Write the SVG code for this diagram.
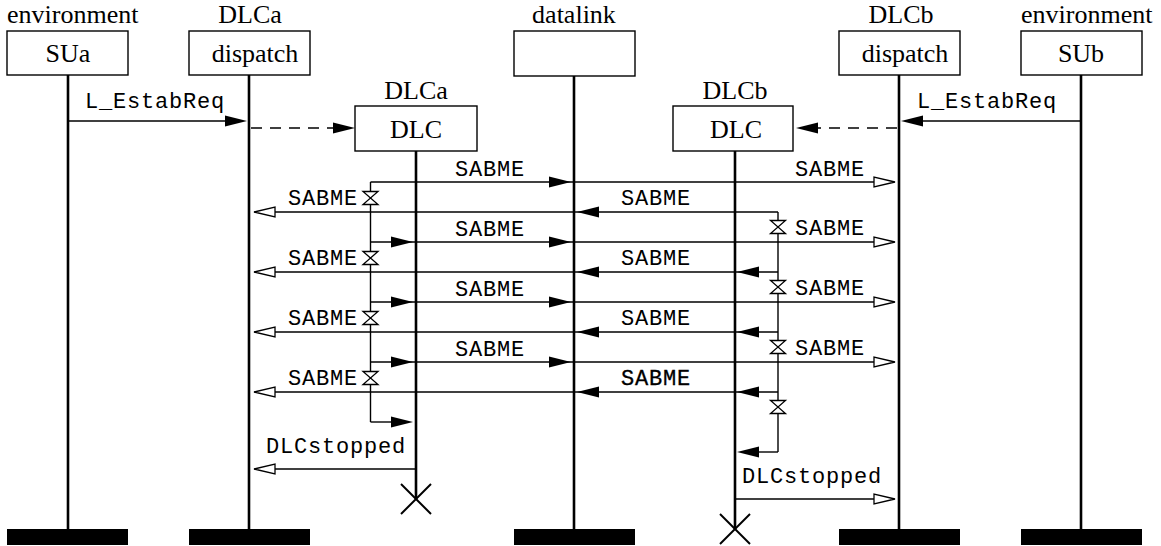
<svg xmlns="http://www.w3.org/2000/svg" width="1161" height="546" viewBox="0 0 1161 546">
<style>
.box{fill:#fff;stroke:#000;stroke-width:1.4}
.life{stroke:#000;stroke-width:2.6}
.bar{fill:#000}
.t{font-family:"Liberation Serif","Times New Roman",serif;font-size:26px;fill:#000;text-anchor:middle}
.m{font-family:"Liberation Mono","Courier New",monospace;font-size:22px;letter-spacing:0.8px;fill:#000;text-anchor:middle}
.ln{stroke:#000;stroke-width:1.4;fill:none}
.dash{stroke:#000;stroke-width:1.4;stroke-dasharray:11 8}
.hg{fill:#fff;stroke:#000;stroke-width:1.3}
.x{stroke:#000;stroke-width:2}
</style>
<defs>
<path id="fa" d="M0,0 L-22,-5.5 L-22,5.5 Z" fill="#000"/>
<path id="oa" d="M0,0 L-21,-5 L-21,5 Z" fill="#fff" stroke="#000" stroke-width="1.3"/>
<path id="hg" d="M-7.5,-6.5 L7.5,-6.5 L-7.5,6.5 L7.5,6.5 Z" class="hg"/>
</defs>

<g id="SUa">
<text class="t" x="7" y="23" style="text-anchor:start">environment</text>
<rect class="box" x="7" y="31" width="121" height="44"/>
<text class="t" x="68" y="62">SUa</text>
<line class="life" x1="68" y1="75" x2="68" y2="529"/>
<rect class="bar" x="7" y="529" width="121" height="16"/>
</g>

<g id="DLCa_dispatch">
<text class="t" x="250" y="23">DLCa</text>
<rect class="box" x="189" y="31" width="121" height="44"/>
<text class="t" x="255" y="62">dispatch</text>
<line class="life" x1="249" y1="75" x2="249" y2="529"/>
<rect class="bar" x="189" y="529" width="121" height="16"/>
</g>

<g id="DLCa_DLC">
<text class="t" x="416" y="99">DLCa</text>
<rect class="box" x="355" y="106" width="122" height="45"/>
<text class="t" x="416" y="138">DLC</text>
<line class="life" x1="416" y1="151" x2="416" y2="499"/>
<line class="x" x1="401" y1="484" x2="431" y2="514"/>
<line class="x" x1="431" y1="484" x2="401" y2="514"/>
</g>

<g id="datalink">
<text class="t" x="574" y="23">datalink</text>
<rect class="box" x="514" y="31" width="121" height="45"/>
<line class="life" x1="574" y1="76" x2="574" y2="529"/>
<rect class="bar" x="514" y="529" width="121" height="16"/>
</g>

<g id="DLCb_DLC">
<text class="t" x="735" y="99">DLCb</text>
<rect class="box" x="673" y="106" width="120" height="45"/>
<text class="t" x="736" y="138">DLC</text>
<line class="life" x1="735" y1="151" x2="735" y2="529"/>
<line class="x" x1="720" y1="514" x2="750" y2="544"/>
<line class="x" x1="750" y1="514" x2="720" y2="544"/>
</g>

<g id="DLCb_dispatch">
<text class="t" x="901" y="23">DLCb</text>
<rect class="box" x="839" y="31" width="121" height="44"/>
<text class="t" x="905" y="62">dispatch</text>
<line class="life" x1="899" y1="75" x2="899" y2="529"/>
<rect class="bar" x="839" y="529" width="121" height="16"/>
</g>

<g id="SUb">
<text class="t" x="1021" y="23" style="text-anchor:start">environment</text>
<rect class="box" x="1021" y="31" width="121" height="44"/>
<text class="t" x="1081" y="62">SUb</text>
<line class="life" x1="1081" y1="75" x2="1081" y2="529"/>
<rect class="bar" x="1021" y="529" width="121" height="16"/>
</g>

<g id="connectors">
<!-- L_EstabReq -->
<line class="ln" x1="68" y1="121" x2="228" y2="121"/>
<use href="#fa" transform="translate(247,121)"/>
<text class="m" x="155" y="108">L_EstabReq</text>
<line class="ln" x1="1081" y1="121" x2="920" y2="121"/>
<use href="#fa" transform="translate(901,121) scale(-1,1)"/>
<text class="m" x="987" y="108">L_EstabReq</text>
<!-- create (dashed) -->
<line class="dash" x1="251" y1="128" x2="334" y2="128"/>
<use href="#fa" transform="translate(355,128)"/>
<line class="dash" x1="897" y1="128" x2="816" y2="128"/>
<use href="#fa" transform="translate(796,128) scale(-1,1)"/>

<!-- timer lines -->
<line class="ln" x1="370.5" y1="182" x2="370.5" y2="422"/>
<line class="ln" x1="778" y1="212" x2="778" y2="452"/>

<!-- rightward SABME rows -->
<line class="ln" x1="370.5" y1="182" x2="875" y2="182"/>
<use href="#fa" transform="translate(571,182)"/>
<use href="#oa" transform="translate(895,182)"/>
<text class="m" x="490" y="176">SABME</text>
<text class="m" x="830" y="176">SABME</text>

<line class="ln" x1="370.5" y1="242" x2="875" y2="242"/>
<use href="#fa" transform="translate(413,242)"/>
<use href="#fa" transform="translate(571,242)"/>
<use href="#oa" transform="translate(895,242)"/>
<text class="m" x="490" y="236">SABME</text>
<text class="m" x="830" y="235">SABME</text>

<line class="ln" x1="370.5" y1="302" x2="875" y2="302"/>
<use href="#fa" transform="translate(413,302)"/>
<use href="#fa" transform="translate(571,302)"/>
<use href="#oa" transform="translate(895,302)"/>
<text class="m" x="490" y="296">SABME</text>
<text class="m" x="830" y="295">SABME</text>

<line class="ln" x1="370.5" y1="362" x2="875" y2="362"/>
<use href="#fa" transform="translate(413,362)"/>
<use href="#fa" transform="translate(571,362)"/>
<use href="#oa" transform="translate(895,362)"/>
<text class="m" x="490" y="356">SABME</text>
<text class="m" x="830" y="355">SABME</text>

<line class="ln" x1="370.5" y1="422" x2="400" y2="422"/>
<use href="#fa" transform="translate(413,422)"/>

<!-- leftward SABME rows -->
<line class="ln" x1="778" y1="212" x2="274" y2="212"/>
<use href="#fa" transform="translate(577,212) scale(-1,1)"/>
<use href="#oa" transform="translate(254,212) scale(-1,1)"/>
<text class="m" x="323" y="205">SABME</text>
<text class="m" x="656" y="205">SABME</text>

<line class="ln" x1="778" y1="272" x2="274" y2="272"/>
<use href="#fa" transform="translate(737,272) scale(-1,1)"/>
<use href="#fa" transform="translate(577,272) scale(-1,1)"/>
<use href="#oa" transform="translate(254,272) scale(-1,1)"/>
<text class="m" x="323" y="265">SABME</text>
<text class="m" x="656" y="265">SABME</text>

<line class="ln" x1="778" y1="332" x2="274" y2="332"/>
<use href="#fa" transform="translate(737,332) scale(-1,1)"/>
<use href="#fa" transform="translate(577,332) scale(-1,1)"/>
<use href="#oa" transform="translate(254,332) scale(-1,1)"/>
<text class="m" x="323" y="325">SABME</text>
<text class="m" x="656" y="325">SABME</text>

<line class="ln" x1="778" y1="392" x2="274" y2="392"/>
<use href="#fa" transform="translate(737,392) scale(-1,1)"/>
<use href="#fa" transform="translate(577,392) scale(-1,1)"/>
<use href="#oa" transform="translate(254,392) scale(-1,1)"/>
<text class="m" x="323" y="385">SABME</text>
<text class="m" x="656" y="385" style="stroke:#000;stroke-width:0.3">SABME</text>

<line class="ln" x1="778" y1="452" x2="750" y2="452"/>
<use href="#fa" transform="translate(737,452) scale(-1,1)"/>

<!-- hourglasses -->
<use href="#hg" transform="translate(370.5,198)"/>
<use href="#hg" transform="translate(370.5,258)"/>
<use href="#hg" transform="translate(370.5,318)"/>
<use href="#hg" transform="translate(370.5,378)"/>
<use href="#hg" transform="translate(778,227)"/>
<use href="#hg" transform="translate(778,287)"/>
<use href="#hg" transform="translate(778,347)"/>
<use href="#hg" transform="translate(778,407)"/>

<!-- DLCstopped -->
<line class="ln" x1="416" y1="469" x2="274" y2="469"/>
<use href="#oa" transform="translate(254,469) scale(-1,1)"/>
<text class="m" x="336" y="453">DLCstopped</text>
<line class="ln" x1="735" y1="499" x2="875" y2="499"/>
<use href="#oa" transform="translate(895,499)"/>
<text class="m" x="812" y="483">DLCstopped</text>
</g>
</svg>
